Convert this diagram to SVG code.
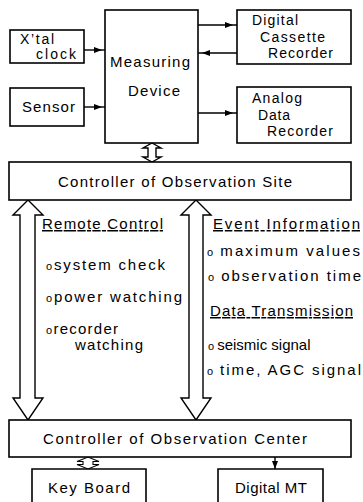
<svg xmlns="http://www.w3.org/2000/svg" width="363" height="502" viewBox="0 0 363 502">
  <style>
    .box { fill: #fff; stroke: #000; stroke-width: 1.6; }
    .wire { fill: none; stroke: #000; stroke-width: 1.4; }
    .bus { fill: #fff; stroke: #000; stroke-width: 1.4; stroke-linejoin: miter; }
    .bus-s { fill: #fff; stroke: #000; stroke-width: 1.1; stroke-linejoin: miter; }
    text { font-family: "Liberation Sans", Arial, sans-serif; font-size: 15px; fill: #000; }
    .sm { font-size: 14px; }
    .ul { text-decoration: underline; }
    .bul { font-size: 11px; }
  </style>
  <defs>
    <marker id="ah" viewBox="0 0 8 6" refX="4" refY="3" markerWidth="8" markerHeight="6" markerUnits="userSpaceOnUse" orient="auto">
      <path d="M0,0 L8,3 L0,6 Z" fill="#000"/>
    </marker>
  </defs>

  <!-- signal lines and data buses -->
  <g id="connectors">
    <path class="wire" d="M84,50 L98,50 L105,50" marker-mid="url(#ah)"/>
    <path class="wire" d="M84,107 L98,107 L105,107" marker-mid="url(#ah)"/>
    <path class="wire" d="M198,25 L229,25 L237,25" marker-mid="url(#ah)"/>
    <path class="wire" d="M237,53 L206,53 L198,53" marker-mid="url(#ah)"/>
    <path class="wire" d="M198,113 L229,113 L237,113" marker-mid="url(#ah)"/>
    <path class="wire" d="M275,457 L275,465 L275,469" marker-mid="url(#ah)"/>
    <!-- bidirectional buses -->
    <path class="bus" d="M148,148 L143,148 L152,143 L161,148 L156,148 L156,157 L161,157 L152,162 L143,157 L148,157 Z"/>
    <path class="bus-s" d="M83,461.5 L77,461.5 L88,457 L99,461.5 L93,461.5 L93,464.5 L99,464.5 L88,469 L77,464.5 L83,464.5 Z"/>
    <path class="bus" d="M20,215 L13,215 L28,200 L43,215 L35,215 L35,398 L43,398 L28,420 L13,398 L20,398 Z"/>
    <path class="bus" d="M189,215 L181,215 L196,200 L211,215 L203,215 L203,398 L211,398 L196,420 L181,398 L189,398 Z"/>
  </g>

  <g id="xtal">
    <rect class="box" x="10" y="30" width="74" height="33"/>
    <text class="sm" x="20" y="44" textLength="34">X’tal</text>
    <text class="sm" x="36" y="59" textLength="40">clock</text>
  </g>
  <g id="sensor">
    <rect class="box" x="10" y="88" width="74" height="38"/>
    <text x="22" y="112" textLength="53">Sensor</text>
  </g>
  <g id="measuring">
    <rect class="box" x="105" y="10" width="93" height="133"/>
    <text x="110" y="67" textLength="80">Measuring</text>
    <text x="128" y="96" textLength="52">Device</text>
  </g>
  <g id="cassette">
    <rect class="box" x="237" y="10" width="114" height="54"/>
    <text class="sm" x="252" y="25" textLength="46">Digital</text>
    <text class="sm" x="260" y="41.5" textLength="65">Cassette</text>
    <text class="sm" x="268" y="58" textLength="65">Recorder</text>
  </g>
  <g id="analog">
    <rect class="box" x="237" y="87" width="114" height="56"/>
    <text class="sm" x="252" y="103" textLength="50">Analog</text>
    <text class="sm" x="258" y="119.5" textLength="32">Data</text>
    <text class="sm" x="267" y="136" textLength="66">Recorder</text>
  </g>
  <g id="site">
    <rect class="box" x="9" y="162" width="342" height="38"/>
    <text x="58" y="187" textLength="234">Controller of Observation Site</text>
  </g>

  <g id="remote-control">
    <text class="ul" x="42" y="229" textLength="121">Remote Control</text>
    <text x="46" y="270" textLength="119"><tspan class="bul">o</tspan>system check</text>
    <text x="46" y="302" textLength="136"><tspan class="bul">o</tspan>power watching</text>
    <text x="46" y="334" textLength="72"><tspan class="bul">o</tspan>recorder</text>
    <text x="75" y="350" textLength="68">watching</text>
  </g>
  <g id="event-info">
    <text class="ul" x="213" y="229" textLength="147">Event Information</text>
    <text x="207" y="256" textLength="153"><tspan class="bul">o </tspan>maximum values</text>
    <text x="208" y="281" textLength="153"><tspan class="bul">o </tspan>observation time</text>
    <text class="ul" x="210" y="316" textLength="143">Data Transmission</text>
    <text x="208" y="350"><tspan class="bul">o </tspan>seismic signal</text>
    <text x="207" y="375" textLength="154"><tspan class="bul">o </tspan>time, AGC signal</text>
  </g>

  <g id="center">
    <rect class="box" x="9" y="420" width="342" height="37"/>
    <text x="43" y="444" textLength="264">Controller of Observation Center</text>
  </g>
  <g id="keyboard">
    <path class="box" d="M32,506 L32,469 L146,469 L146,506"/>
    <text x="48" y="493" textLength="82">Key Board</text>
  </g>
  <g id="digital-mt">
    <path class="box" d="M218,506 L218,469 L323,469 L323,506"/>
    <text x="235" y="493" textLength="72">Digital MT</text>
  </g>
</svg>
